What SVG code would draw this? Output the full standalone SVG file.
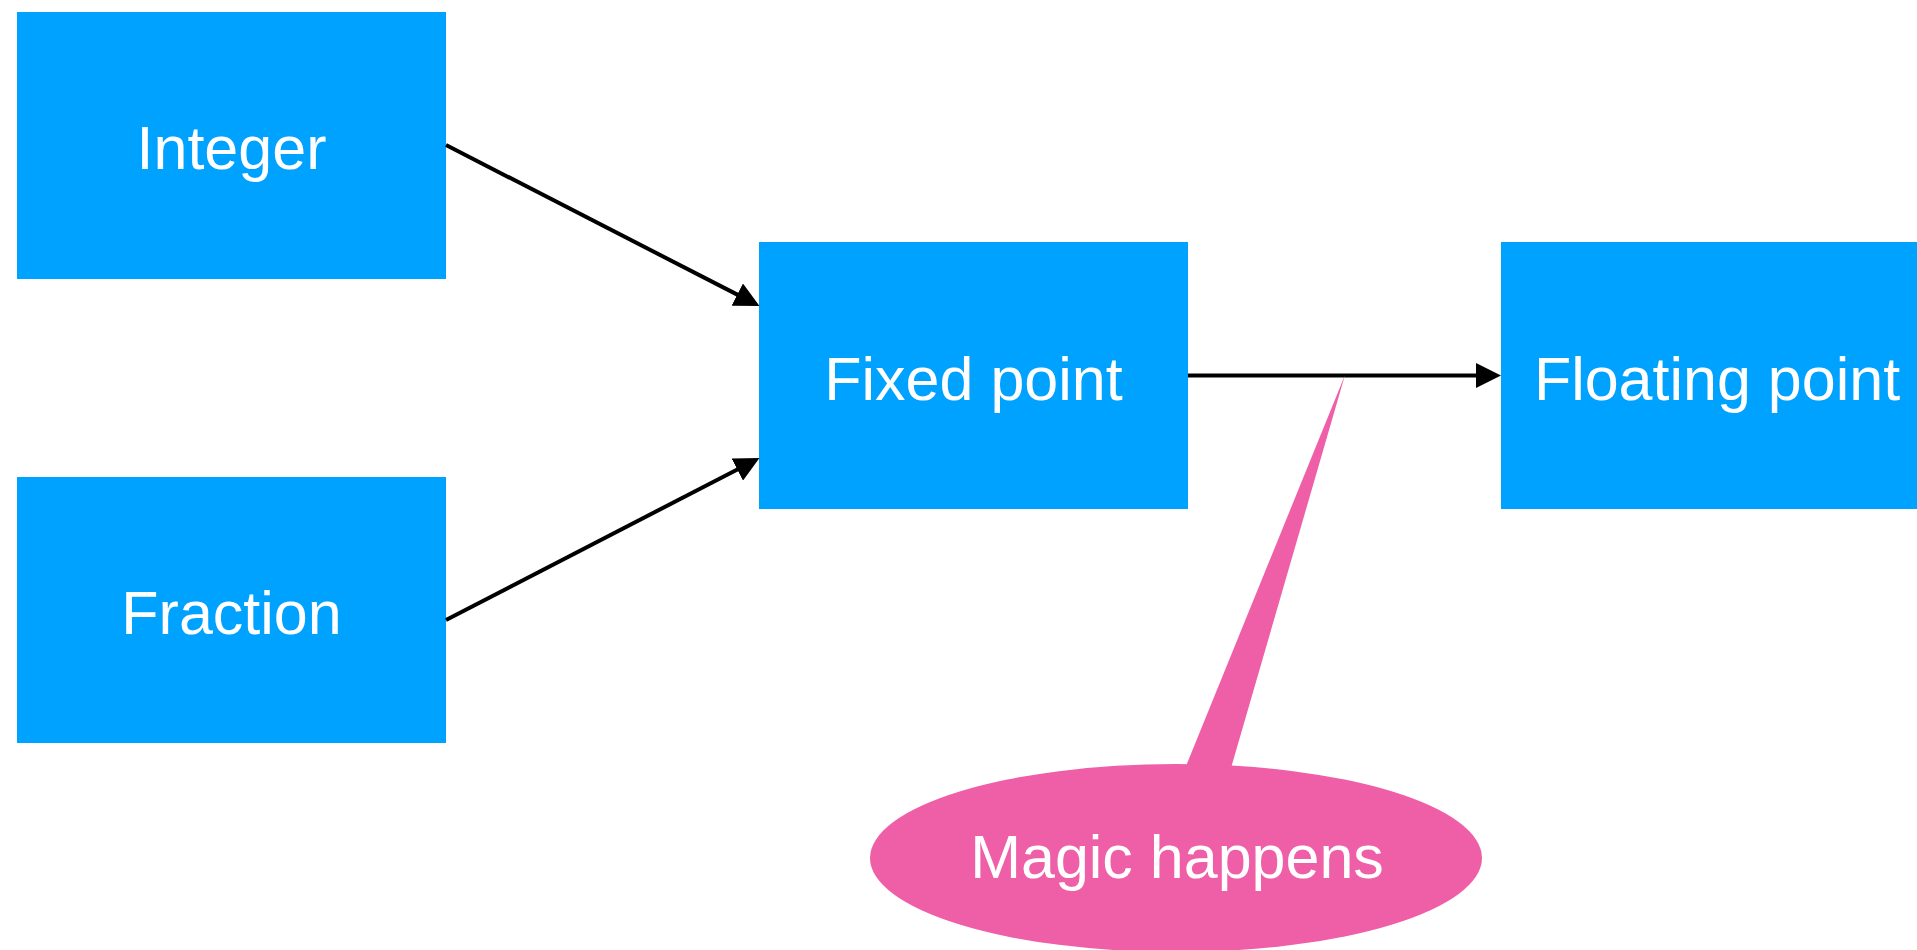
<svg xmlns="http://www.w3.org/2000/svg" width="1917" height="950" viewBox="0 0 1917 950">
  <defs>
    <marker id="arrow" markerUnits="userSpaceOnUse" markerWidth="25" markerHeight="25" refX="5" refY="12.5" orient="auto" viewBox="0 0 25 25">
      <path d="M0,0 L25,12.5 L0,25 z" fill="#000"/>
    </marker>
    <style>
      .box { fill: #00A2FF; }
      .label { font-family: "Liberation Sans", Arial, sans-serif; font-size: 61px; fill: #fff; text-anchor: middle; }
      .edge { stroke: #000; stroke-width: 4; fill: none; marker-end: url(#arrow); }
      .bubble { fill: #EF5FA7; }
    </style>
  </defs>
  <rect width="1917" height="950" fill="#fff"/>

  <g id="node-integer">
    <rect class="box" x="17" y="12" width="429" height="267"/>
    <text class="label" x="231.5" y="169">Integer</text>
  </g>

  <g id="node-fraction">
    <rect class="box" x="17" y="477" width="429" height="266"/>
    <text class="label" x="231.5" y="634">Fraction</text>
  </g>

  <g id="node-fixed">
    <rect class="box" x="759" y="242" width="429" height="267"/>
    <text class="label" x="973.5" y="400">Fixed point</text>
  </g>

  <g id="node-floating">
    <rect class="box" x="1501" y="242" width="429" height="267"/>
    <text class="label" x="1717" y="400">Floating point</text>
  </g>

  <g id="connectors">
    <line class="edge" x1="446" y1="145" x2="741.7" y2="296.9"/>
    <line class="edge" x1="446" y1="620" x2="741.7" y2="467.2"/>
    <line class="edge" x1="1188" y1="375.5" x2="1481" y2="375.5"/>
  </g>

  <g id="callout-magic">
    <polygon class="bubble" points="1345,375 1186,766 1231,768"/>
    <ellipse class="bubble" cx="1176" cy="858" rx="306" ry="94"/>
    <text class="label" x="1177" y="878">Magic happens</text>
  </g>
</svg>
